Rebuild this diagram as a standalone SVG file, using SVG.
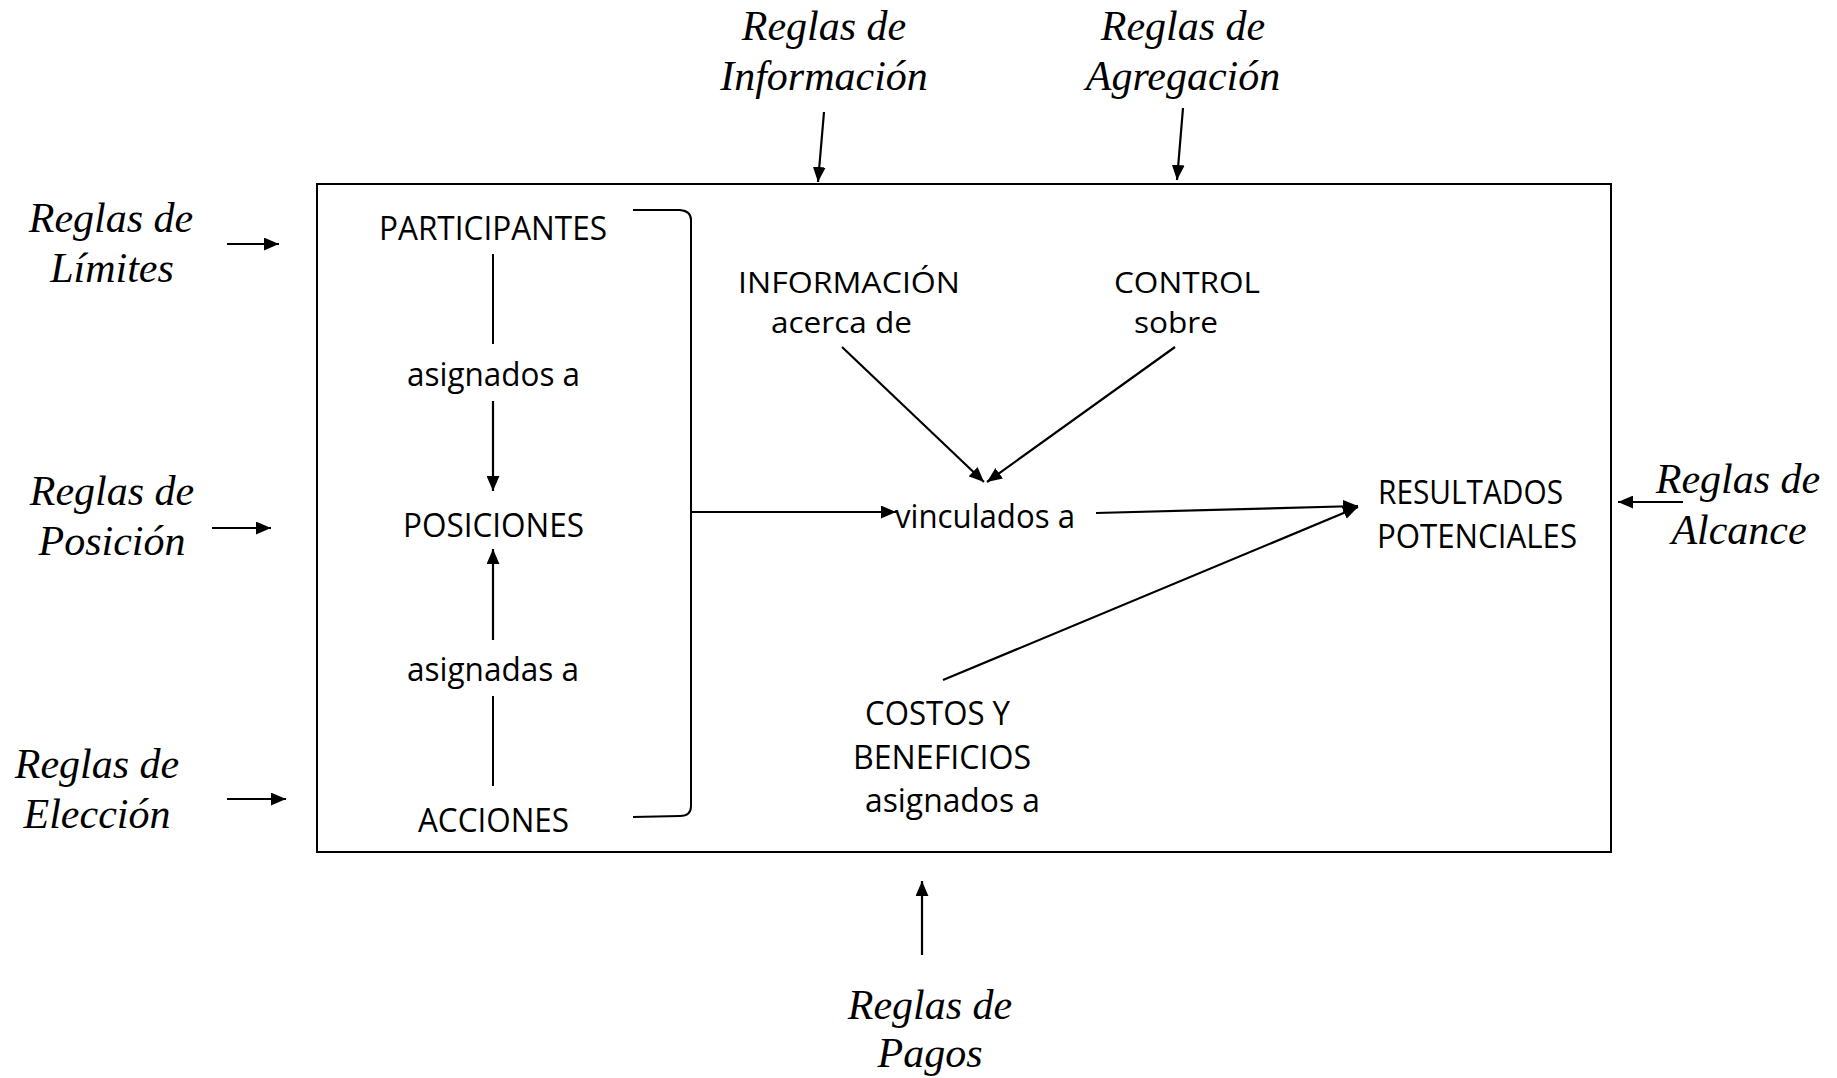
<svg xmlns="http://www.w3.org/2000/svg" width="1837" height="1078" viewBox="0 0 1837 1078">
<style>
.t{font-family:"Open Sans","Liberation Sans",sans-serif;font-size:32px;fill:#000;text-anchor:middle}
.s{font-size:30px}
.r{font-family:"Liberation Serif","Times New Roman",serif;font-style:italic;font-size:42px;fill:#000;text-anchor:middle}
.ln{stroke:#000;stroke-width:2;fill:none}
.ar{stroke:#000;stroke-width:2.2;fill:none;marker-end:url(#ah)}
</style>
<defs>
<marker id="ah" viewBox="0 0 14 12" refX="14" refY="6" markerWidth="15" markerHeight="13" markerUnits="userSpaceOnUse" orient="auto">
<path d="M0,0 L14,6 L0,12 z" fill="#000"/>
</marker>
</defs>
<rect width="1837" height="1078" fill="#fff"/>
<g id="frame">
<rect x="317" y="184" width="1294" height="668" class="ln"/>
</g>
<g id="bracket">
<path d="M633,210 L680,210 Q691,211 691,220 L691,806 Q691,816 680,816 L633,817" class="ln"/>
</g>
<g id="participantes"><text class="t" x="493" y="240" textLength="228" lengthAdjust="spacingAndGlyphs">PARTICIPANTES</text></g>
<g id="asignados1"><text class="t" x="493.5" y="386" textLength="173" lengthAdjust="spacingAndGlyphs">asignados a</text></g>
<g id="posiciones"><text class="t" x="493.5" y="537" textLength="181" lengthAdjust="spacingAndGlyphs">POSICIONES</text></g>
<g id="asignadas"><text class="t" x="493" y="681" textLength="172" lengthAdjust="spacingAndGlyphs">asignadas a</text></g>
<g id="acciones"><text class="t" x="493.5" y="832" textLength="151" lengthAdjust="spacingAndGlyphs">ACCIONES</text></g>
<g id="informacion"><text class="t s" x="849" y="293" textLength="222" lengthAdjust="spacingAndGlyphs">INFORMACIÓN</text><text class="t s" x="841.5" y="333" textLength="141" lengthAdjust="spacingAndGlyphs">acerca de</text></g>
<g id="control"><text class="t s" x="1187" y="293" textLength="146" lengthAdjust="spacingAndGlyphs">CONTROL</text><text class="t s" x="1176" y="333" textLength="84" lengthAdjust="spacingAndGlyphs">sobre</text></g>
<g id="vinculados"><text class="t" x="985" y="528" textLength="180" lengthAdjust="spacingAndGlyphs">vinculados a</text></g>
<g id="resultados"><text class="t" x="1470.5" y="504" textLength="185" lengthAdjust="spacingAndGlyphs">RESULTADOS</text><text class="t" x="1477" y="548" textLength="200" lengthAdjust="spacingAndGlyphs">POTENCIALES</text></g>
<g id="costos"><text class="t" x="937.5" y="725" textLength="145" lengthAdjust="spacingAndGlyphs">COSTOS Y</text><text class="t" x="942" y="769" textLength="178" lengthAdjust="spacingAndGlyphs">BENEFICIOS</text><text class="t" x="952.5" y="812" textLength="175" lengthAdjust="spacingAndGlyphs">asignados a</text></g>
<g id="reglas-informacion"><text class="r" x="824" y="40">Reglas de</text><text class="r" x="824" y="90">Información</text></g>
<g id="reglas-agregacion"><text class="r" x="1183" y="40">Reglas de</text><text class="r" x="1183" y="90">Agregación</text></g>
<g id="reglas-limites"><text class="r" x="111" y="232">Reglas de</text><text class="r" x="112" y="282">Límites</text></g>
<g id="reglas-posicion"><text class="r" x="112" y="505">Reglas de</text><text class="r" x="112" y="555">Posición</text></g>
<g id="reglas-eleccion"><text class="r" x="97" y="778">Reglas de</text><text class="r" x="97" y="828">Elección</text></g>
<g id="reglas-alcance"><text class="r" x="1738" y="493">Reglas de</text><text class="r" x="1739" y="544">Alcance</text></g>
<g id="reglas-pagos"><text class="r" x="930" y="1019">Reglas de</text><text class="r" x="930" y="1067">Pagos</text></g>
<g id="connectors">
<line x1="493" y1="254" x2="493" y2="344" class="ln"/>
<line x1="493" y1="401" x2="493" y2="491" class="ar"/>
<line x1="493" y1="640" x2="493" y2="549" class="ar"/>
<line x1="493" y1="696" x2="493" y2="786" class="ln"/>
<line x1="691" y1="512" x2="896" y2="512" class="ar"/>
<line x1="842" y1="347" x2="984" y2="482" class="ar"/>
<line x1="1175" y1="347" x2="987" y2="482" class="ar"/>
<line x1="1096" y1="513" x2="1358" y2="506" class="ar" stroke-width="2.6"/>
<line x1="943" y1="680" x2="1358" y2="507" class="ar"/>
<line x1="824" y1="112" x2="818" y2="182" class="ar"/>
<line x1="1183" y1="108" x2="1177" y2="180" class="ar"/>
<line x1="227" y1="244" x2="279" y2="244" class="ar"/>
<line x1="212" y1="528" x2="271" y2="528" class="ar"/>
<line x1="227" y1="799" x2="286" y2="799" class="ar"/>
<line x1="1683" y1="502" x2="1618" y2="502" class="ar"/>
<line x1="922" y1="955" x2="922" y2="881" class="ar"/>
</g>
</svg>
